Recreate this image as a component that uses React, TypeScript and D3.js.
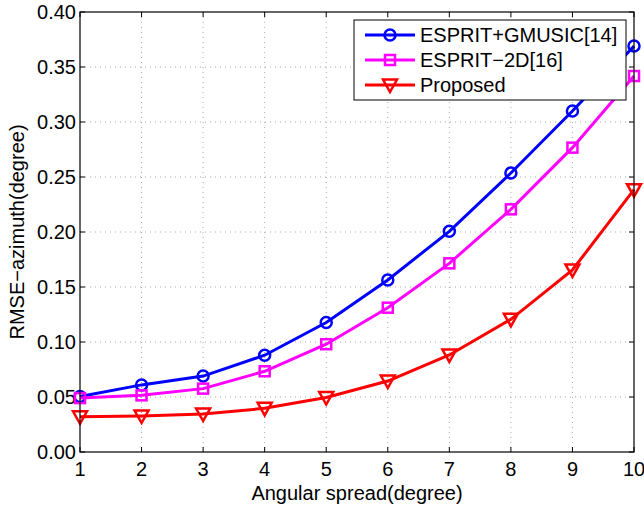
import React from 'react';
import * as d3 from 'd3';

const spreads = [1, 2, 3, 4, 5, 6, 7, 8, 9, 10];
const gmusic = [0.0505, 0.061, 0.069, 0.088, 0.1177, 0.1564, 0.2006, 0.2536, 0.31, 0.369];
const esprit2d = [0.049, 0.0515, 0.0576, 0.0734, 0.098, 0.1312, 0.1715, 0.2206, 0.2767, 0.3418];
const proposed = [0.032, 0.0327, 0.0345, 0.0397, 0.0495, 0.0645, 0.0882, 0.1206, 0.1655, 0.2385];
const yTicks = [0, 0.05, 0.1, 0.15, 0.2, 0.25, 0.3, 0.35, 0.4];

const seriesList = [
  { name: 'ESPRIT+GMUSIC[14]', values: gmusic, color: '#0000ff', marker: 'circle' },
  { name: 'ESPRIT\u22122D[16]', values: esprit2d, color: '#ff00ff', marker: 'square' },
  { name: 'Proposed', values: proposed, color: '#ff0000', marker: 'triangle' },
];

const W = 644;
const H = 506;
const margin = { top: 12, right: 10, bottom: 54, left: 80 };
const font = '"Liberation Sans", Arial, sans-serif';
const fs = 20;

const Marker: React.FC<{ type: string; x: number; y: number; color: string }> = ({ type, x, y, color }) => {
  if (type === 'circle') {
    return <circle cx={x} cy={y} r={5.5} fill="none" stroke={color} strokeWidth={2.5} />;
  }
  if (type === 'square') {
    return <rect x={x - 5} y={y - 5} width={10} height={10} fill="none" stroke={color} strokeWidth={2.5} />;
  }
  return (
    <path
      d={`M${x - 7},${y - 5.5} L${x + 7},${y - 5.5} L${x},${y + 7} Z`}
      fill="none"
      stroke={color}
      strokeWidth={2.5}
      strokeLinejoin="miter"
    />
  );
};

export default function App() {
  const innerW = W - margin.left - margin.right;
  const innerH = H - margin.top - margin.bottom;

  const x = d3.scaleLinear().domain([1, 10]).range([0, innerW]);
  const y = d3.scaleLinear().domain([0, 0.4]).range([innerH, 0]);

  const line = d3
    .line<number>()
    .x((_, i) => x(spreads[i]))
    .y(d => y(d));

  const tickLen = 5;

  return (
    <svg
      width={W}
      height={H}
      style={{ position: 'absolute', left: 0, top: 0, background: '#fff' }}
      fontFamily={font}
    >
      <rect width={W} height={H} fill="#fff" />
      <g transform={`translate(${margin.left},${margin.top})`}>
        {/* grid */}
        {spreads.slice(1, -1).map(t => (
          <line key={`gx${t}`} x1={x(t)} x2={x(t)} y1={0} y2={innerH} stroke="#aaa" strokeWidth={1} strokeDasharray="1,4" />
        ))}
        {yTicks.slice(1, -1).map(t => (
          <line key={`gy${t}`} x1={0} x2={innerW} y1={y(t)} y2={y(t)} stroke="#aaa" strokeWidth={1} strokeDasharray="1,4" />
        ))}

        {/* ticks on all four sides */}
        {spreads.map(t => (
          <g key={`tx${t}`}>
            <line x1={x(t)} x2={x(t)} y1={innerH} y2={innerH - tickLen} stroke="#000" />
            <line x1={x(t)} x2={x(t)} y1={0} y2={tickLen} stroke="#000" />
            <text x={x(t)} y={innerH + 24} textAnchor="middle" fontSize={fs} fill="#000">
              {t}
            </text>
          </g>
        ))}
        {yTicks.map(t => (
          <g key={`ty${t}`}>
            <line x1={0} x2={tickLen} y1={y(t)} y2={y(t)} stroke="#000" />
            <line x1={innerW} x2={innerW - tickLen} y1={y(t)} y2={y(t)} stroke="#000" />
            <text x={-4} y={y(t)} dy="0.36em" textAnchor="end" fontSize={fs} fill="#000">
              {t.toFixed(2)}
            </text>
          </g>
        ))}

        {/* series */}
        {seriesList.map(s => (
          <g key={s.name}>
            <path d={line(s.values) || ''} fill="none" stroke={s.color} strokeWidth={3} />
            {s.values.map((v, i) => (
              <Marker key={i} type={s.marker} x={x(spreads[i])} y={y(v)} color={s.color} />
            ))}
          </g>
        ))}

        <rect x={0} y={0} width={innerW} height={innerH} fill="none" stroke="#000" strokeWidth={1.2} />

        {/* legend */}
        <g transform={`translate(${354 - margin.left},${20 - margin.top})`}>
          <rect x={0} y={0} width={272} height={80} fill="#fff" stroke="#000" strokeWidth={1} />
          {seriesList.map((s, i) => (
            <g key={s.name} transform={`translate(0,${15 + i * 25})`}>
              <line x1={11} x2={61} y1={0} y2={0} stroke={s.color} strokeWidth={3} />
              <Marker type={s.marker} x={36} y={0} color={s.color} />
              <text x={66} y={0} dy="0.36em" fontSize={fs} fill="#000">
                {s.name}
              </text>
            </g>
          ))}
        </g>
      </g>

      <text x={margin.left + innerW / 2} y={500} textAnchor="middle" fontSize={fs} fill="#000">
        Angular spread(degree)
      </text>
      <text
        transform={`translate(24,${margin.top + innerH / 2}) rotate(-90)`}
        textAnchor="middle"
        fontSize={fs}
        fill="#000"
      >
        RMSE{'\u2212'}azimuth(degree)
      </text>
    </svg>
  );
}
